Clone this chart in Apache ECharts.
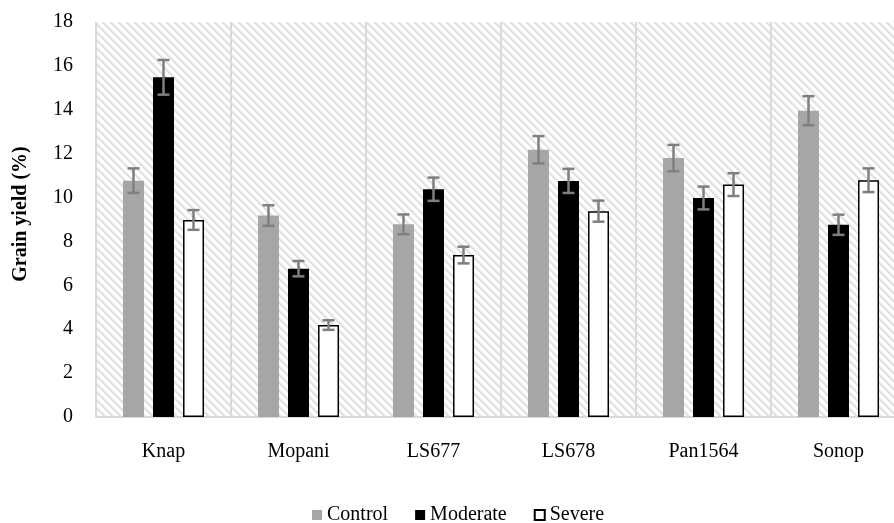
<!DOCTYPE html>
<html>
<head>
<meta charset="utf-8">
<script src="https://cdn.jsdelivr.net/npm/echarts@6/dist/echarts.min.js"></script>
<style>html,body{margin:0;padding:0;background:#fff;overflow:hidden;width:894px;height:523px;}#c{width:906px;height:523px;}</style>
</head>
<body>
<div id="c"></div>
<script>
var categories = ['Knap', 'Mopani', 'LS677', 'LS678', 'Pan1564', 'Sonop'];
var seriesNames = ['Control', 'Moderate', 'Severe'];
var controlVals = [10.77, 9.18, 8.78, 12.18, 11.8, 13.96];
var moderateVals = [15.48, 6.76, 10.38, 10.76, 9.98, 8.76];
var severeVals = [8.98, 4.19, 7.38, 9.38, 10.59, 10.79];
var controlErr = [0.56, 0.47, 0.45, 0.62, 0.6, 0.66];
var moderateErr = [0.79, 0.35, 0.53, 0.55, 0.52, 0.46];
var severeErr = [0.45, 0.22, 0.38, 0.48, 0.52, 0.54];
var yTicks = [0, 2, 4, 6, 8, 10, 12, 14, 16, 18];
var yTitle = 'Grain yield (%)';

var values = [controlVals, moderateVals, severeVals];
var errs = [controlErr, moderateErr, severeErr];
var colors = ['#a6a6a6', '#000000', '#ffffff'];

// hatch pattern
var tile = document.createElement('canvas');
var P = 8;
tile.width = P; tile.height = P;
var tctx = tile.getContext('2d');
var img = tctx.createImageData(P, P);
for (var y = 0; y < P; y++) {
  for (var x = 0; x < P; x++) {
    var d = (((x - y) % P) + P) % P;
    var v = 255;
    if (d === 0 || d === 1) v = 224;
    else if (d === 2 || d === P - 1) v = 240;
    var k = (y * P + x) * 4;
    img.data[k] = v; img.data[k + 1] = v; img.data[k + 2] = v; img.data[k + 3] = 255;
  }
}
tctx.putImageData(img, 0, 0);

var BAR_W = 21, BAR_STEP = 30;
var FONT = '"Liberation Serif", "Times New Roman", serif';
var FS = 20;

var series = [];
seriesNames.forEach(function (name, i) {
  series.push({
    name: name,
    type: 'bar',
    data: values[i],
    barWidth: BAR_W,
    barGap: '43%',
    itemStyle: i === 2 ? { color: colors[i], borderColor: '#000', borderWidth: 1.5 } : { color: colors[i] },
    emphasis: { disabled: true },
    z: 2
  });
});
seriesNames.forEach(function (name, i) {
  series.push({
    name: name + ' err',
    type: 'custom',
    z: 5,
    silent: true,
    data: values[i].map(function (v, j) { return [j, v - errs[i][j], v + errs[i][j]]; }),
    renderItem: function (params, api) {
      var xi = api.value(0);
      var lo = api.coord([xi, api.value(1)]);
      var hi = api.coord([xi, api.value(2)]);
      var x = lo[0] + (i - 1) * BAR_STEP;
      var cap = 6;
      var st = { stroke: '#7f7f7f', lineWidth: 2.5 };
      return {
        type: 'group',
        children: [
          { type: 'line', shape: { x1: x, y1: lo[1], x2: x, y2: hi[1] }, style: st },
          { type: 'line', shape: { x1: x - cap, y1: lo[1], x2: x + cap, y2: lo[1] }, style: st },
          { type: 'line', shape: { x1: x - cap, y1: hi[1], x2: x + cap, y2: hi[1] }, style: st }
        ]
      };
    }
  });
});

var chart = echarts.init(document.getElementById('c'), null, { renderer: 'canvas' });
chart.setOption({
  animation: false,
  backgroundColor: '#fff',
  textStyle: { fontFamily: FONT },
  grid: {
    left: 96, top: 22, right: 0, bottom: 106,
    show: true, borderWidth: 0,
    backgroundColor: { image: tile, repeat: 'repeat' }
  },
  graphic: [{
    type: 'text',
    x: 21, y: 214,
    rotation: Math.PI / 2,
    style: {
      text: yTitle,
      fontFamily: FONT, fontSize: 20, fontWeight: 'bold', fill: '#000',
      align: 'center', verticalAlign: 'middle'
    }
  }],
  legend: {
    data: seriesNames,
    left: 312, top: 505, padding: 0,
    icon: 'rect', itemWidth: 10, itemHeight: 10, itemGap: 27,
    textStyle: { fontFamily: FONT, fontSize: FS, color: '#000' },
    selectedMode: false
  },
  xAxis: {
    type: 'category',
    data: categories,
    axisLine: { show: true, lineStyle: { color: '#d9d9d9', width: 2 } },
    axisTick: { show: false },
    axisLabel: { fontFamily: FONT, fontSize: FS, color: '#000', margin: 25 },
    splitLine: { show: true, lineStyle: { color: '#d9d9d9', width: 2 } }
  },
  yAxis: {
    type: 'value',
    min: yTicks[0], max: yTicks[yTicks.length - 1], interval: 2,
    axisLine: { show: false },
    axisTick: { show: false },
    axisLabel: { fontFamily: FONT, fontSize: FS, color: '#000', margin: 23 },
    splitLine: { show: false }
  },
  series: series
});
</script>
</body>
</html>
